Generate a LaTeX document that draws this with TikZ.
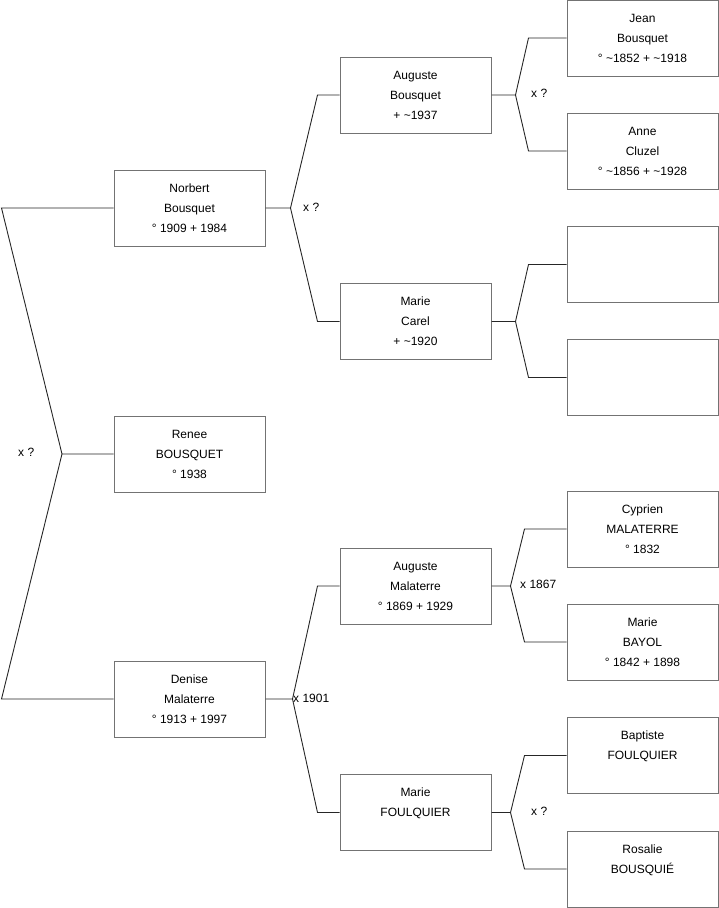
\documentclass[tikz,border=0pt]{standalone}
\usepackage{fontspec}
\setmainfont{Liberation Sans}
\tikzset{
  personne/.style={draw=black!55, line width=1pt, minimum width=151pt, minimum height=76pt,
    inner sep=0pt, align=center, font=\fontsize{12}{20}\selectfont},
  lien/.style={draw=black!85, line width=0.9pt},
  mariage/.style={anchor=west, inner sep=0pt, font=\fontsize{12}{20}\selectfont}
}
\begin{document}
\begin{tikzpicture}[x=1pt,y=-1pt]
        \useasboundingbox (0,0) rectangle (719,908);

        %generation 1
        \node[personne] (renee) at (189.5,454) {Renee\\BOUSQUET\\° 1938};
        %generation 2
        \node[personne] (norbert) at (189.5,208) {Norbert\\Bousquet\\° 1909 + 1984};
        \node[personne] (denise) at (189.5,699) {Denise\\Malaterre\\° 1913 + 1997};
        %generation 3
        \node[personne] (augusteb) at (415.5,95) {Auguste\\Bousquet\\+ \string~1937};
        \node[personne] (mariec) at (415.5,321.5) {Marie\\Carel\\+ \string~1920};
        \node[personne] (augustem) at (415.5,586) {Auguste\\Malaterre\\° 1869 + 1929};
        \node[personne] (marief) at (415.5,812.5) {Marie\\FOULQUIER\\~};
        %generation 4
        \node[personne] (jean) at (642.5,38) {Jean\\Bousquet\\° \string~1852 + \string~1918};
        \node[personne] (anne) at (642.5,151) {Anne\\Cluzel\\° \string~1856 + \string~1928};
        \node[personne] (vide1) at (642.5,264.5) {};
        \node[personne] (vide2) at (642.5,377.5) {};
        \node[personne] (cyprien) at (642.5,529) {Cyprien\\MALATERRE\\° 1832};
        \node[personne] (mariebayol) at (642.5,642) {Marie\\BAYOL\\° 1842 + 1898};
        \node[personne] (baptiste) at (642.5,755.5) {Baptiste\\FOULQUIER\\~};
        \node[personne] (rosalie) at (642.5,869) {Rosalie\\BOUSQUIÉ\\~};

        %parents de Renee
        \coordinate (f0) at (62,454);
        \draw[lien] (renee.west) -- (f0) -- ([xshift=-112pt]norbert.west) -- (norbert.west);
        \draw[lien] (f0) -- ([xshift=-112pt]denise.west) -- (denise.west);
        \node[mariage] (m0) at (18,452) {x ?};

        %parents de Norbert
        \coordinate (f1) at ([xshift=25pt]norbert.east);
        \draw[lien] (norbert.east) -- (f1) -- ([xshift=-22pt]augusteb.west) -- (augusteb.west);
        \draw[lien] (f1) -- ([xshift=-22pt]mariec.west) -- (mariec.west);
        \node[mariage] (m1) at (303,207) {x ?};

        %parents de Denise
        \coordinate (f2) at ([xshift=27pt]denise.east);
        \draw[lien] (denise.east) -- (f2) -- ([xshift=-22pt]augustem.west) -- (augustem.west);
        \draw[lien] (f2) -- ([xshift=-22pt]marief.west) -- (marief.west);
        \node[mariage] (m2) at (293,698) {x 1901};

        %parents de Auguste Bousquet
        \coordinate (f3) at ([xshift=24pt]augusteb.east);
        \draw[lien] (augusteb.east) -- (f3) -- ([xshift=-38pt]jean.west) -- (jean.west);
        \draw[lien] (f3) -- ([xshift=-38pt]anne.west) -- (anne.west);
        \node[mariage] (m3) at (531,93) {x ?};

        %parents de Marie Carel
        \coordinate (f4) at ([xshift=24pt]mariec.east);
        \draw[lien] (mariec.east) -- (f4) -- ([xshift=-38pt]vide1.west) -- (vide1.west);
        \draw[lien] (f4) -- ([xshift=-38pt]vide2.west) -- (vide2.west);

        %parents de Auguste Malaterre
        \coordinate (f5) at ([xshift=19pt]augustem.east);
        \draw[lien] (augustem.east) -- (f5) -- ([xshift=-42pt]cyprien.west) -- (cyprien.west);
        \draw[lien] (f5) -- ([xshift=-42pt]mariebayol.west) -- (mariebayol.west);
        \node[mariage] (m5) at (520,584) {x 1867};

        %parents de Marie Foulquier
        \coordinate (f6) at ([xshift=19pt]marief.east);
        \draw[lien] (marief.east) -- (f6) -- ([xshift=-42pt]baptiste.west) -- (baptiste.west);
        \draw[lien] (f6) -- ([xshift=-42pt]rosalie.west) -- (rosalie.west);
        \node[mariage] (m6) at (531,811) {x ?};

    \end{tikzpicture}
\end{document}
